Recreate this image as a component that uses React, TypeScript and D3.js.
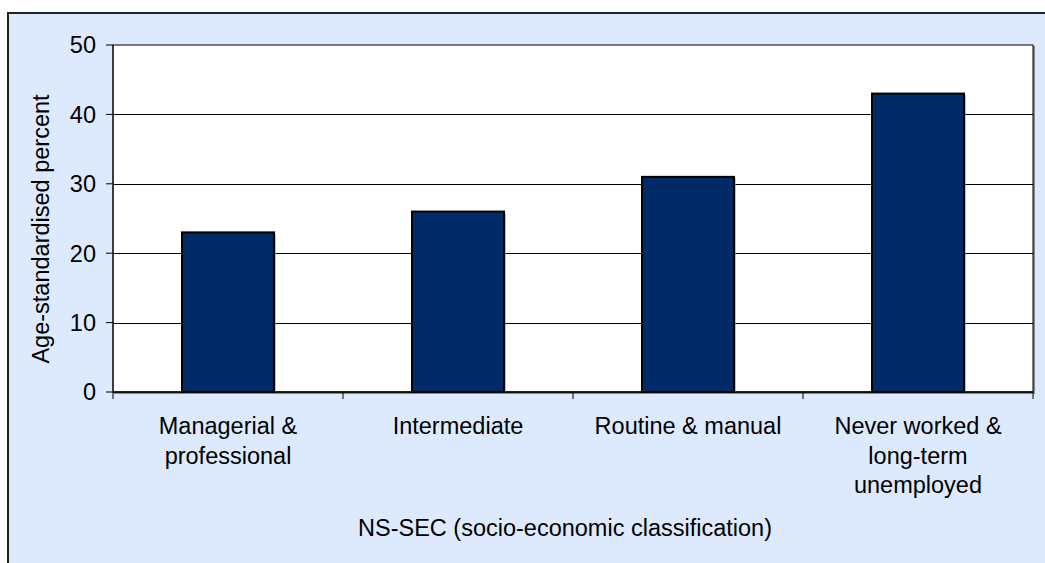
import React from "react";
import * as d3 from "d3";

const categories: string[][] = [
  ["Managerial &", "professional"],
  ["Intermediate"],
  ["Routine & manual"],
  ["Never worked &", "long-term", "unemployed"],
];
const values: number[] = [23, 26, 31, 43];
const yTicks: number[] = [0, 10, 20, 30, 40, 50];
const yTitle = "Age-standardised percent";
const xTitle = "NS-SEC (socio-economic classification)";

export default function App() {
  const W = 1045, H = 563;
  const left = 113, right = 1033, top = 45, bottom = 392;
  const x = d3.scaleBand<number>().domain(d3.range(values.length)).range([left, right]).paddingInner(0.6).paddingOuter(0.3);
  const xs = d3.scaleBand<number>().domain(d3.range(values.length)).range([left, right]);
  const y = d3.scaleLinear().domain([0, 50]).range([bottom, top]);
  const font = "Arial, 'Liberation Sans', sans-serif";
  const fs = 23.5;
  return (
    <svg width={W} height={H} style={{ position: "absolute", left: 0, top: 0, display: "block" }}>
      <rect x={0} y={0} width={W} height={H} fill="#fff" />
      <rect x={8} y={13} width={W} height={H} fill="#DDEAFE" stroke="#222" strokeWidth={2} />
      <rect x={left + 1} y={top + 1} width={right - left + 1} height={bottom - top + 1} fill="#888" />
      <rect x={left} y={top} width={right - left} height={bottom - top} fill="#fff" stroke="#000" strokeWidth={1} />
      {yTicks.filter(t => t > 0 && t < 50).map(t => (
        <line key={t} x1={left} x2={right} y1={Math.round(y(t)) + 0.5} y2={Math.round(y(t)) + 0.5} stroke="#000" strokeWidth={1} />
      ))}
      {values.map((v, i) => (
        <g key={i}>
          <rect x={x(i)! + 1.5} y={y(v) + 1.5} width={x.bandwidth()} height={bottom - y(v)} fill="#888" />
          <rect x={x(i)!} y={y(v)} width={x.bandwidth()} height={bottom - y(v)} fill="#002B66" stroke="#000" strokeWidth={2} />
        </g>
      ))}
      <line x1={left} x2={right} y1={bottom} y2={bottom} stroke="#000" strokeWidth={1.5} />
      <line x1={left} x2={left} y1={top} y2={bottom} stroke="#000" strokeWidth={1} />
      {yTicks.map(t => (
        <g key={t}>
          <line x1={left - 7} x2={left} y1={y(t)} y2={y(t)} stroke="#000" />
          <text x={96} y={y(t)} dy="0.36em" textAnchor="end" fontFamily={font} fontSize={fs} fill="#000">{t}</text>
        </g>
      ))}
      {d3.range(values.length + 1).map(i => {
        const xx = i < values.length ? xs(i)! : right;
        return <line key={i} x1={xx} x2={xx} y1={bottom} y2={bottom + 7} stroke="#000" />;
      })}
      {categories.map((lines, i) => (
        <text key={i} x={xs(i)! + xs.bandwidth() / 2} y={434} textAnchor="middle" fontFamily={font} fontSize={fs} fill="#000">
          {lines.map((l, j) => (
            <tspan key={j} x={xs(i)! + xs.bandwidth() / 2} dy={j === 0 ? 0 : 29.5}>{l}</tspan>
          ))}
        </text>
      ))}
      <text x={565} y={535.5} textAnchor="middle" fontFamily={font} fontSize={fs} fill="#000">{xTitle}</text>
      <text transform={`translate(49, 229) rotate(-90)`} textAnchor="middle" fontFamily={font} fontSize={fs} fill="#000">{yTitle}</text>
    </svg>
  );
}
